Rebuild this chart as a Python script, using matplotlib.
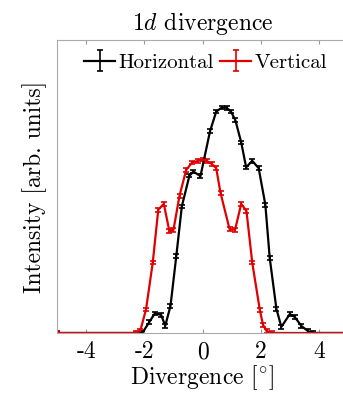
import numpy as np
import matplotlib.pyplot as plt

# ---------------------------------------------------------------------------
# Data (intensity normalised to the horizontal peak)
# ---------------------------------------------------------------------------
x_h = [-5.0, -2.07, -1.83, -1.64, -1.42, -1.28, -1.10, -0.90, -0.71, -0.45,
       -0.31, -0.07, 0.26, 0.47, 0.66, 0.83, 0.98, 1.13, 1.33, 1.50, 1.71,
       1.93, 2.16, 2.31, 2.54, 2.71, 3.00, 3.17, 3.40, 3.62, 3.79, 5.0]
y_h = [0.0, 0.0, 0.048, 0.087, 0.080, 0.032, 0.120, 0.342, 0.562, 0.698,
       0.716, 0.696, 0.896, 0.982, 1.000, 0.999, 0.982, 0.944, 0.846, 0.735,
       0.764, 0.731, 0.569, 0.333, 0.107, 0.027, 0.084, 0.071, 0.031, 0.009,
       0.0, 0.0]

x_v = [-5.0, -2.28, -2.14, -1.94, -1.71, -1.52, -1.33, -1.14, -1.00, -0.79,
       -0.56, -0.36, -0.14, 0.03, 0.14, 0.31, 0.47, 0.62, 0.93, 1.12, 1.33,
       1.51, 1.71, 1.97, 2.08, 2.20, 2.38, 5.0]
y_v = [0.0, 0.0, 0.009, 0.105, 0.312, 0.547, 0.573, 0.453, 0.456, 0.609,
       0.724, 0.756, 0.764, 0.769, 0.764, 0.751, 0.732, 0.621, 0.461, 0.458,
       0.573, 0.542, 0.312, 0.102, 0.036, 0.009, 0.0, 0.0]

err = 0.008
xticks = [-4, -2, 0, 2, 4]
xticklabels = ["-4", "-2", "0", "2", "4"]

# ---------------------------------------------------------------------------
# Style
# ---------------------------------------------------------------------------
plt.rcParams["font.family"] = "serif"
plt.rcParams["font.serif"] = ["cmr10", "DejaVu Serif"]
plt.rcParams["mathtext.fontset"] = "cm"
plt.rcParams["axes.unicode_minus"] = False
plt.rcParams["font.size"] = 17

fig = plt.figure(figsize=(3.43, 3.93), dpi=100)
ax = fig.add_axes([57 / 343, 60 / 393, 291 / 343, 293 / 393])

ax.errorbar(x_h, y_h, yerr=err, color="black", lw=1.6, capsize=2.2,
            capthick=1.2, elinewidth=1.2, label="Horizontal")
ax.errorbar(x_v, y_v, yerr=err, color="#e00000", lw=1.6, capsize=2.2,
            capthick=1.2, elinewidth=1.2, label="Vertical")

ax.set_xlim(-5, 5)
ax.set_ylim(0, 1.3)
ax.set_xticks(xticks)
ax.set_xticklabels(xticklabels)
ax.set_yticks([])
ax.tick_params(axis="x", direction="in", top=True, length=3, color="#999999",
               labelsize=17, pad=6)
for s in ax.spines.values():
    s.set_color("#aaaaaa")
ax.spines["right"].set_visible(False)

ax.set_title("1$d$ divergence", fontsize=17, pad=7)
ax.set_xlabel("Divergence [$^{\\circ}$]", fontsize=17, labelpad=0)
ax.set_ylabel("Intensity [arb. units]", fontsize=17, labelpad=7)

ax.legend(loc="upper center", bbox_to_anchor=(0.51, 1.0), ncol=2,
          frameon=False, fontsize=15, handlelength=1.5, handletextpad=0.15,
          columnspacing=0.3, borderaxespad=0.25)

fig.savefig("out.png", dpi=100)
